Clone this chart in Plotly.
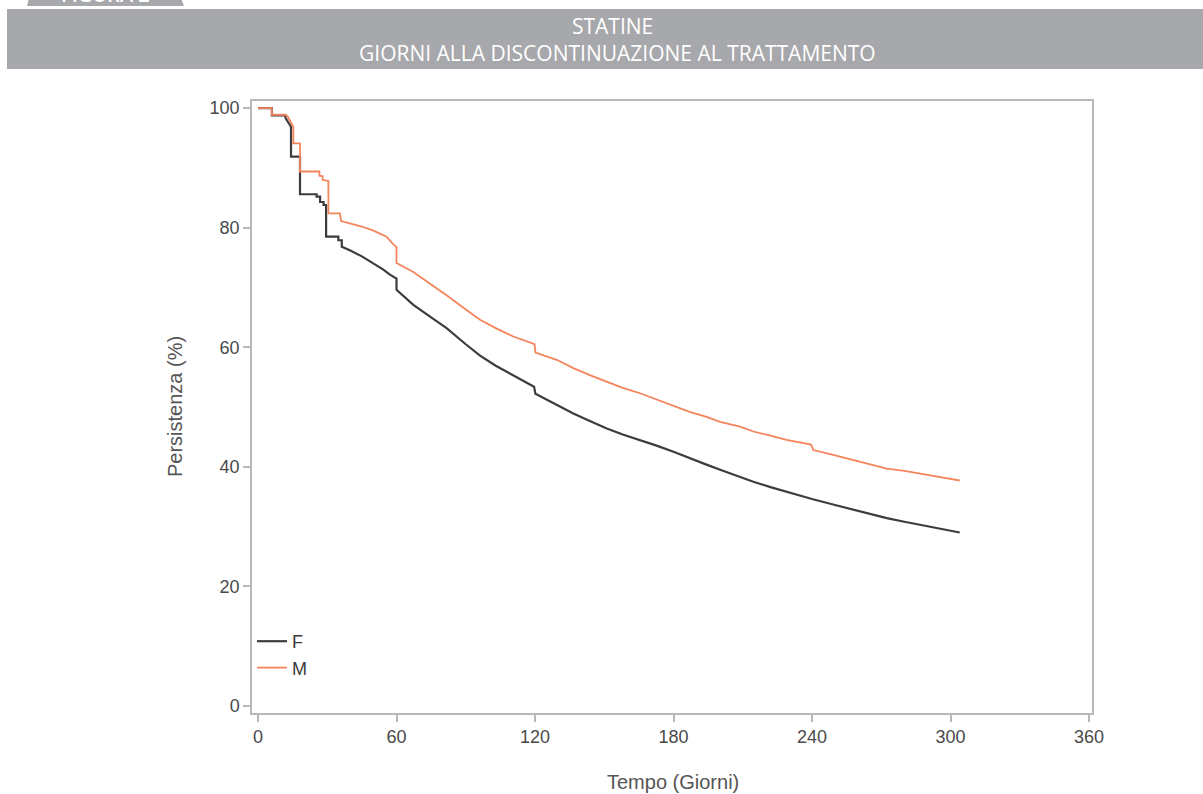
import plotly.graph_objects as go

W, H = 1203, 794

# ---- Data ----
days_f = [0, 6, 6, 11.8, 12, 13, 14.3, 14.3, 18.2, 18.2, 25.4, 25.4, 26.9, 26.9, 28.4, 28.4,
          29.5, 29.5, 34.8, 34.8, 36.3, 36.3, 40, 45, 50, 54.3, 57, 60, 60, 67.3, 75, 81.7,
          90, 96.2, 103, 110.6, 119.6, 120.2, 129, 136.6, 144, 151.1, 158, 165.5, 173, 180,
          187, 194, 200.2, 207, 214.6, 222, 229, 235, 240, 250, 258, 265, 272.4, 280, 286.8,
          295, 304]
surv_f = [100, 100, 98.8, 98.8, 98.3, 97.7, 96.9, 91.9, 91.9, 85.6, 85.6, 85.2, 85.2, 84.3, 84.3, 83.8,
          83.8, 78.5, 78.5, 77.9, 77.9, 76.8, 76.2, 75.2, 74.0, 73.0, 72.2, 71.5, 69.6, 67.1, 65.0, 63.2,
          60.5, 58.6, 56.9, 55.3, 53.4, 52.2, 50.4, 48.9, 47.6, 46.4, 45.4, 44.5, 43.5, 42.5,
          41.4, 40.4, 39.5, 38.5, 37.5, 36.6, 35.8, 35.2, 34.6, 33.6, 32.8, 32.1, 31.4, 30.8, 30.3,
          29.6, 29.0]

days_m = [0, 6, 6, 12, 13, 14, 15.3, 15.3, 18.2, 18.2, 26.6, 26.6, 28, 28, 30.5, 30.5, 35.5, 36,
          40, 45, 50, 55.7, 58.6, 60, 60, 67.3, 75, 81.7, 90, 96.2, 103, 110.6, 119.8, 120.2,
          129.4, 136.6, 144, 151.1, 158, 165.5, 173, 180, 187, 194, 200.2, 208.8, 214.6, 222,
          229, 239.6, 240.6, 250, 258, 265, 272.4, 280, 286.8, 295, 304]
surv_m = [100, 100, 98.9, 98.9, 98.5, 97.8, 96.9, 94.1, 94.1, 89.4, 89.4, 88.7, 88.6, 88.0, 87.8, 82.4, 82.4, 81.1,
          80.7, 80.2, 79.5, 78.5, 77.2, 76.8, 74.1, 72.6, 70.5, 68.7, 66.3, 64.6, 63.2, 61.8, 60.5, 59.1,
          57.9, 56.5, 55.3, 54.2, 53.2, 52.3, 51.2, 50.3, 49.2, 48.4, 47.5, 46.7, 45.9, 45.2,
          44.5, 43.7, 42.8, 41.9, 41.1, 40.4, 39.7, 39.3, 38.9, 38.3, 37.7]

x_ticks = [0, 60, 120, 180, 240, 300, 360]
y_ticks = [0, 20, 40, 60, 80, 100]

series_names = ["F", "M"]
tab_text = "FIGURA 2"
title_line1 = "STATINE"
title_line2 = "GIORNI ALLA DISCONTINUAZIONE AL TRATTAMENTO"
x_title = "Tempo (Giorni)"
y_title = "Persistenza (%)"

def X(px):
    return px / W

def Y(py):
    return 1 - py / H

fig = go.Figure()
fig.add_trace(go.Scatter(x=days_f, y=surv_f, mode="lines", name=series_names[0],
                         line=dict(color="#3c3c3c", width=2.2)))
fig.add_trace(go.Scatter(x=days_m, y=surv_m, mode="lines", name=series_names[1],
                         line=dict(color="#f4845c", width=1.8)))

axis_col = "#b8b8b8"
tick_font = dict(family="Liberation Sans, Arial", size=18, color="#4a4a4a")

fig.update_layout(
    width=W, height=H,
    margin=dict(l=0, r=0, t=0, b=0),
    paper_bgcolor="white", plot_bgcolor="white",
    showlegend=True,
    legend=dict(x=X(252), y=Y(623), xanchor="left", yanchor="top",
                bgcolor="rgba(0,0,0,0)", font=dict(family="Liberation Sans, Arial", size=18, color="#3a3a3a"),
                itemwidth=30, tracegroupgap=0),
    xaxis=dict(domain=[X(252), X(1092)], range=[-2.6, 361.3], tickvals=x_ticks,
               showgrid=False, zeroline=False, showline=True, mirror=True,
               linecolor=axis_col, linewidth=1.5, ticks="outside", ticklen=7,
               tickcolor=axis_col, tickwidth=1.5, tickfont=tick_font, automargin=False),
    yaxis=dict(domain=[Y(713), Y(101)], range=[-1.2, 101.2], tickvals=y_ticks,
               showgrid=False, zeroline=False, showline=True, mirror=True,
               linecolor=axis_col, linewidth=1.5, ticks="outside", ticklen=7,
               tickcolor=axis_col, tickwidth=1.5, tickfont=tick_font, automargin=False),
)

# header banner and tab
fig.add_shape(type="rect", xref="paper", yref="paper", x0=X(7), x1=X(1203), y0=Y(69), y1=Y(9),
              fillcolor="#a7a8ab", line=dict(width=0), layer="below")
fig.add_shape(type="path", xref="paper", yref="paper",
              path=f"M {X(27)},{Y(6)} L {X(29)},{Y(-2)} L {X(181)},{Y(-2)} L {X(184)},{Y(6)} Z",
              fillcolor="#a7a8ab", line=dict(width=0), layer="below")

ann_font = dict(family="Open Sans, Noto Sans", size=21, color="white", weight=500)
fig.add_annotation(text=tab_text, xref="paper", yref="paper", x=X(105), y=Y(-5),
                   xanchor="center", yanchor="middle", showarrow=False,
                   font=dict(family="Open Sans, Noto Sans", size=20, color="white", weight=600))
fig.add_annotation(text=title_line1, xref="paper", yref="paper", x=X(612), y=Y(26),
                   xanchor="center", yanchor="middle", showarrow=False, font=ann_font)
fig.add_annotation(text=title_line2, xref="paper", yref="paper", x=X(617), y=Y(52.5),
                   xanchor="center", yanchor="middle", showarrow=False, font=ann_font)

title_font = dict(family="Liberation Sans, Arial", size=20, color="#555555")
fig.add_annotation(text=x_title, xref="paper", yref="paper", x=X(673), y=Y(782),
                   xanchor="center", yanchor="middle", showarrow=False, font=title_font)
fig.add_annotation(text=y_title, xref="paper", yref="paper", x=X(175), y=Y(407),
                   xanchor="center", yanchor="middle", showarrow=False, font=title_font,
                   textangle=-90)

fig.write_html("out.html")
